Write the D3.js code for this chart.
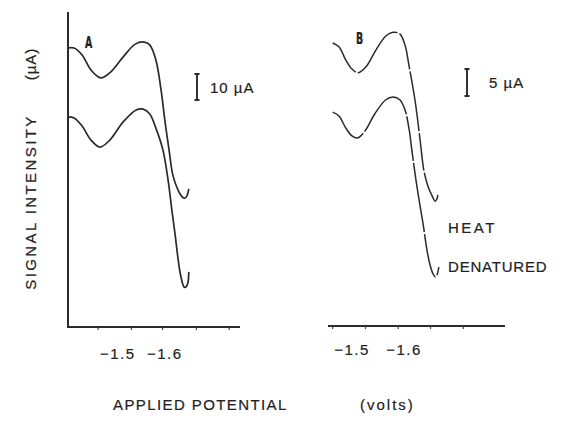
<!DOCTYPE html>
<html>
<head>
<meta charset="utf-8">
<script src="https://cdn.jsdelivr.net/npm/d3@7"></script>
<style>
  body { margin: 0; background: #fff; }
  text { font-family: "Liberation Sans", Arial, sans-serif; fill: #222; stroke: #222; stroke-width: 0.2px; }
</style>
</head>
<body>
<script>
// panel A - voltammograms (volts, microamps)
var aUpperV = [-1.394, -1.407, -1.424, -1.443, -1.464, -1.485, -1.511, -1.537, -1.556, -1.568, -1.581, -1.592, -1.600, -1.609, -1.617, -1.628, -1.637, -1.643, -1.647, -1.651];
var aUpperI = [107.3, 107.3, 104.6, 98.8, 95.8, 98.1, 103.8, 108.8, 109.6, 108.5, 102.7, 91.2, 79.6, 68.1, 58.5, 52.7, 50.0, 49.6, 50.4, 53.1];
var aLowerV = [-1.394, -1.407, -1.424, -1.443, -1.462, -1.483, -1.511, -1.539, -1.554, -1.568, -1.581, -1.596, -1.607, -1.615, -1.622, -1.628, -1.634, -1.641, -1.645, -1.649, -1.651];
var aLowerI = [80.8, 80.4, 77.3, 71.9, 69.2, 71.9, 78.8, 83.5, 83.8, 81.9, 76.5, 68.1, 56.5, 45.0, 35.4, 26.5, 19.6, 15.4, 15.4, 16.9, 21.2];

// panel B
var bUpperV = [-1.463, -1.475, -1.488, -1.500, -1.512, -1.527, -1.546, -1.565, -1.579, -1.592, -1.602, -1.610, -1.621, -1.631, -1.638, -1.646, -1.654, -1.660, -1.663, -1.665];
var bUpperI = [52.4, 51.7, 49.3, 47.6, 46.9, 48.0, 51.1, 53.7, 54.4, 54.1, 52.0, 48.0, 41.9, 34.4, 28.9, 25.9, 24.1, 23.1, 23.5, 24.3];
var bLowerV = [-1.463, -1.475, -1.488, -1.500, -1.510, -1.525, -1.544, -1.565, -1.579, -1.592, -1.602, -1.610, -1.615, -1.623, -1.629, -1.637, -1.644, -1.650, -1.656, -1.660, -1.663, -1.667];
var bLowerI = [39.6, 38.9, 36.7, 35.2, 34.8, 36.1, 39.3, 41.9, 42.4, 41.9, 40.0, 36.3, 32.6, 27.0, 23.3, 18.7, 14.1, 11.3, 9.6, 9.1, 9.4, 10.9];

var aTicks = [-1.457, -1.528, -1.594, -1.666, -1.736];
var bTicks = [-1.462, -1.525, -1.588, -1.650, -1.713];
var tickLabels = [-1.5, -1.6];
var scaleBarA = 10, scaleBarB = 5;

var svg = d3.select("body").append("svg")
    .attr("width", 567)
    .attr("height", 422);

var xA = d3.scaleLinear().domain([-1.394, -1.760]).range([68, 240]);
var yA = d3.scaleLinear().domain([0, 120]).range([327, 15]);
var xB = d3.scaleLinear().domain([-1.454, -1.794]).range([328, 505]);
var yB = d3.scaleLinear().domain([0, 57]).range([326, 18.2]);

function fmt(d) {
    return "\u2212" + Math.abs(d).toFixed(1);
}

function drawCurve(xs, ys, vs, is, w, dash) {
    var pts = vs.map(function (v, i) { return [v, is[i]]; });
    var line = d3.line()
        .x(function (d) { return xs(d[0]); })
        .y(function (d) { return ys(d[1]); })
        .curve(d3.curveCatmullRom.alpha(0.5));
    svg.append("path")
        .datum(pts)
        .attr("d", line)
        .attr("fill", "none")
        .attr("stroke", "#2a2a2a")
        .attr("stroke-width", w)
        .attr("stroke-dasharray", dash);
}

// axes
var axA = d3.axisBottom(xA).tickValues(aTicks).tickSize(3).tickFormat("");
svg.append("g").attr("transform", "translate(0,327)").call(axA)
    .call(function (g) {
        g.select(".domain").attr("d", "M68,0H240").attr("stroke", "#2a2a2a").attr("stroke-width", 2);
        g.selectAll(".tick line").attr("stroke", "#444").attr("stroke-width", 1.2);
    });
svg.append("g").attr("transform", "translate(68,0)")
    .call(d3.axisLeft(yA).tickValues([]).tickSizeOuter(0))
    .call(function (g) {
        g.select(".domain").attr("d", "M0,12V328").attr("stroke", "#2a2a2a").attr("stroke-width", 2);
    });

var axB = d3.axisBottom(xB).tickValues(bTicks).tickSize(3).tickFormat("");
svg.append("g").attr("transform", "translate(0,326)").call(axB)
    .call(function (g) {
        g.select(".domain").attr("d", "M328,0H505").attr("stroke", "#2a2a2a").attr("stroke-width", 2);
        g.selectAll(".tick line").attr("stroke", "#444").attr("stroke-width", 1.2);
    });

// tick labels
svg.selectAll(".lblA").data(tickLabels).enter().append("text")
    .attr("x", function (d) { return xA(d); })
    .attr("y", 359)
    .attr("text-anchor", "middle")
    .style("font-size", "15px")
    .style("letter-spacing", "1.5px")
    .text(fmt);
svg.selectAll(".lblB").data(tickLabels).enter().append("text")
    .attr("x", function (d) { return xB(d); })
    .attr("y", 355)
    .attr("text-anchor", "middle")
    .style("font-size", "15px")
    .style("letter-spacing", "1.5px")
    .text(fmt);

// curves
drawCurve(xA, yA, aUpperV, aUpperI, 1.7, null);
drawCurve(xA, yA, aLowerV, aLowerI, 1.7, null);
drawCurve(xB, yB, bUpperV, bUpperI, 1.5, "38,2,60,2");
drawCurve(xB, yB, bLowerV, bLowerI, 1.5, "45,2,70,2");

// scale bars
function scaleBar(x, y0, h) {
    svg.append("path")
        .attr("d", "M" + (x - 2.5) + "," + y0 + "H" + (x + 2.5) +
            "M" + x + "," + y0 + "V" + (y0 + h) +
            "M" + (x - 2.5) + "," + (y0 + h) + "H" + (x + 2.5))
        .attr("stroke", "#2a2a2a")
        .attr("stroke-width", 1.9)
        .attr("fill", "none");
}
scaleBar(197, 74, yA(0) - yA(scaleBarA));
scaleBar(467, 69, yB(0) - yB(scaleBarB));

svg.append("text").attr("x", 210).attr("y", 93)
    .style("font-size", "15px").style("letter-spacing", "1px")
    .text(scaleBarA + " \u00b5A");
svg.append("text").attr("x", 489).attr("y", 88)
    .style("font-size", "15px").style("letter-spacing", "1px")
    .text(scaleBarB + " \u00b5A");

// panel letters (narrow, hand lettered look)
svg.append("text")
    .attr("transform", "translate(85,48) scale(0.7,1)")
    .style("font-family", "'DejaVu Sans Condensed', 'DejaVu Sans', sans-serif")
    .style("font-weight", "bold").style("font-size", "15px")
    .text("A");
svg.append("text")
    .attr("transform", "translate(356,44) scale(0.7,1)")
    .style("font-family", "'DejaVu Sans Condensed', 'DejaVu Sans', sans-serif")
    .style("font-weight", "bold").style("font-size", "15px")
    .text("B");

// curve labels
svg.append("text").attr("x", 448).attr("y", 233)
    .style("font-size", "15px").style("letter-spacing", "2.5px")
    .text("HEAT");
svg.append("text").attr("x", 448).attr("y", 272)
    .style("font-size", "15px").style("letter-spacing", "0.8px")
    .text("DENATURED");

// axis titles
svg.append("text")
    .attr("transform", "translate(36,202) rotate(-90)")
    .attr("text-anchor", "middle")
    .style("font-size", "15px").style("letter-spacing", "2.4px")
    .text("SIGNAL INTENSITY");
svg.append("text")
    .attr("transform", "translate(36,64) rotate(-90)")
    .attr("text-anchor", "middle")
    .style("font-size", "15px").style("letter-spacing", "1px")
    .text("(\u00b5A)");

svg.append("text").attr("x", 113).attr("y", 410)
    .style("font-size", "15px").style("letter-spacing", "1.4px")
    .text("APPLIED POTENTIAL");
svg.append("text").attr("x", 360).attr("y", 410)
    .style("font-size", "15px").style("letter-spacing", "2px")
    .text("(volts)");
</script>
</body>
</html>
